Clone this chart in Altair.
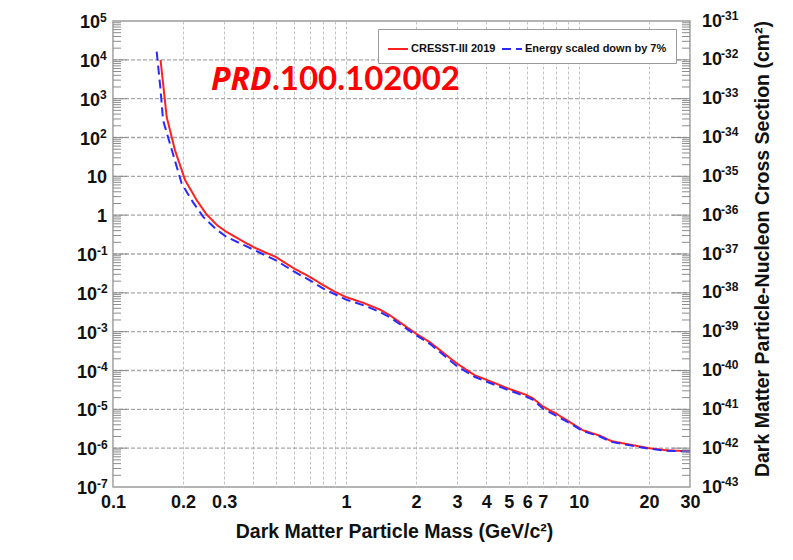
import altair as alt
import pandas as pd

# ---------------- data ----------------
series_names = ["CRESST-III 2019", "Energy scaled down by 7%"]

red_mass = [0.160, 0.170, 0.1845, 0.204, 0.229, 0.252, 0.280, 0.307, 0.35, 0.40, 0.45,
            0.50, 0.60, 0.70, 0.80, 0.90, 1.00, 1.19, 1.40, 1.55, 2.00, 2.29, 3.00,
            3.58, 4.00, 5.00, 5.90, 6.37, 7.00, 8.00, 9.15, 10.4, 12.3, 13.8, 16.6,
            20.0, 23.8, 30.0]
red_xs = [1.0e4, 340, 47, 8.0, 2.4, 1.05, 0.55, 0.37, 0.236, 0.152, 0.11,
          0.084, 0.042, 0.0257, 0.0157, 0.0105, 0.0078, 0.0055, 0.0037, 0.0026, 8.9e-4, 5.4e-4, 1.5e-4,
          7.5e-5, 5.8e-5, 3.4e-5, 2.4e-5, 1.9e-5, 1.19e-5, 7.7e-6, 4.7e-6, 2.9e-6, 2.1e-6, 1.52e-6, 1.23e-6,
          1.0e-6, 8.8e-7, 8.3e-7]

blue_mass = [0.154, 0.160, 0.164, 0.179, 0.197, 0.220, 0.244, 0.275, 0.307, 0.40, 0.50,
             0.60, 0.70, 0.80, 1.00, 1.20, 1.40, 1.55, 2.00, 2.30, 3.00, 3.58, 4.00,
             5.00, 5.90, 6.37, 7.00, 9.15, 10.4, 12.3, 13.8, 16.6, 20.0, 23.8, 30.0]
blue_xs = [1.62e4, 1700, 280, 47, 6.6, 2.2, 0.9, 0.45, 0.276, 0.13, 0.069,
           0.035, 0.021, 0.0128, 0.0067, 0.0047, 0.0032, 0.0023, 8.1e-4, 4.8e-4, 1.29e-4, 6.8e-5, 5.2e-5,
           3.1e-5, 2.16e-5, 1.75e-5, 1.05e-5, 4.4e-6, 2.75e-6, 2.0e-6, 1.45e-6, 1.18e-6, 9.7e-7, 8.6e-7, 8.2e-7]

x_grid_values = [0.1, 0.2, 0.3, 0.4, 0.5, 0.6, 0.7, 0.8, 0.9,
                 1, 2, 3, 4, 5, 6, 7, 8, 9, 10, 20, 30]
x_label_texts = ["0.1", "0.2", "0.3", "1", "2", "3", "4", "5", "6", "7", "10", "20", "30"]

left_tick_exps = [5, 4, 3, 2, 1, 0, -1, -2, -3, -4, -5, -6, -7]
right_tick_exps = [-31, -32, -33, -34, -35, -36, -37, -38, -39, -40, -41, -42, -43]
pb_to_cm2_exp = -36
minor_multipliers = [2, 3, 4, 5, 6, 7, 8, 9]

x_title = "Dark Matter Particle Mass (GeV/c²)"
left_title = "Dark Matter Particle-Nucleon Cross Section (pb)"
right_title = "Dark Matter Particle-Nucleon Cross Section (cm²)"
stamp_italic = "PRD"
stamp_rest = ".100.102002"

# ---------------- tables ----------------
lines_df = pd.concat([
    pd.DataFrame({"mass": red_mass, "xs": red_xs, "series": series_names[0]}),
    pd.DataFrame({"mass": blue_mass, "xs": blue_xs, "series": series_names[1]}),
])
left_df = pd.DataFrame({"e": left_tick_exps})
right_df = pd.DataFrame({"e": right_tick_exps})
grid_df = pd.DataFrame({"ge": left_tick_exps[1:-1]})
major_df = pd.DataFrame({"v": [10.0 ** e for e in left_tick_exps[1:-1]]})
minor_df = pd.DataFrame({"v": [m * 10.0 ** e for e in left_tick_exps[1:] for m in minor_multipliers]})

W, H = 577, 466
FONT = "Liberation Sans"
INK = "#111111"
GRID = "#c2c2c2"
FRAME = "#9a9a9a"

xscale = alt.Scale(type="log", domain=[0.1, 30], nice=False)
yscale = alt.Scale(type="log", domain=[1e-7, 1e5], nice=False)

label_list = "[" + ",".join("'%s'" % t for t in x_label_texts) + "]"

leg = alt.Legend(
    title=None, orient="none", legendX=265, legendY=8, direction="horizontal",
    symbolType="stroke", symbolSize=400, symbolStrokeWidth=2,
    labelFont=FONT, labelFontSize=11, labelFontWeight="bold", labelColor=INK,
    labelOffset=2, columnPadding=2, padding=9, strokeColor=FRAME, fillColor="white",
    labelLimit=0,
)

def yenc():
    return alt.Y("v:Q", scale=yscale, axis=None)

# horizontal dashed grid at each decade
hgrid = alt.Chart(grid_df).transform_calculate(gv="pow(10, datum.ge)").mark_rule(
    color="#a8a8a8", strokeWidth=1.4, strokeDash=[4, 2]).encode(
    y=alt.Y("gv:Q", scale=yscale, axis=alt.Axis(
        values=[10.0 ** e for e in left_tick_exps], labels=False, ticks=False, tickSize=0,
        domain=False, grid=False,
        title=left_title, titleFont=FONT, titleFontSize=19.5, titleFontWeight="bold", titleColor=INK,
        titleX=-60, titleY=230, titleAngle=270, titleBaseline="alphabetic", titleAlign="center",
        titleAnchor="start",
    )),
    x=alt.value(0), x2=alt.value(W),
)

lines = alt.Chart(lines_df).mark_line(strokeWidth=2, clip=True).encode(
    x=alt.X("mass:Q", scale=xscale, axis=alt.Axis(
        values=x_grid_values, format="~g",
        labelExpr="indexof(%s, datum.label) >= 0 ? datum.label : ''" % label_list,
        grid=True, gridDash=[3, 2], gridColor=GRID, gridWidth=1,
        ticks=False, tickSize=0, domain=False,
        labelFont=FONT, labelFontSize=18, labelFontWeight="bold", labelColor=INK,
        labelPadding=20, labelBaseline="alphabetic", labelFlush=False, labelOverlap=False,
        title=x_title, titleFont=FONT, titleFontSize=19.5, titleFontWeight="bold", titleColor=INK,
        titleX=281, titleY=50, titleBaseline="alphabetic", titleAlign="center", titleAnchor="start",
    )),
    y=alt.Y("xs:Q", scale=yscale, axis=None),
    color=alt.Color("series:N", scale=alt.Scale(domain=series_names, range=["#ff2020", "#2a2aff"]), legend=leg),
    strokeDash=alt.StrokeDash("series:N", scale=alt.Scale(domain=series_names, range=[[1, 0], [9, 5]]), legend=leg),
)

tick_color = "#8c8c8c"
minor_left = alt.Chart(minor_df).mark_rule(color=tick_color, strokeWidth=1).encode(
    y=yenc(), x=alt.value(0), x2=alt.value(8))
major_left = alt.Chart(major_df).mark_rule(color=tick_color, strokeWidth=1).encode(
    y=yenc(), x=alt.value(0), x2=alt.value(14))
minor_right = alt.Chart(minor_df).mark_rule(color=tick_color, strokeWidth=1).encode(
    y=yenc(), x=alt.value(W), x2=alt.value(W - 8))
major_right = alt.Chart(major_df).mark_rule(color=tick_color, strokeWidth=1).encode(
    y=yenc(), x=alt.value(W), x2=alt.value(W - 18))

base_txt = dict(font=FONT, fontWeight="bold", color=INK)

left_base = alt.Chart(left_df).transform_filter("datum.e != 0 && datum.e != 1").transform_calculate(
    v="pow(10, datum.e)", es="toString(datum.e)")
left_pos_base = left_base.transform_filter("datum.e > 1").mark_text(
    align="right", baseline="middle", fontSize=18, dy=2, **base_txt).encode(
    y=yenc(), x=alt.value(-13), text=alt.value("10"))
left_pos_exp = left_base.transform_filter("datum.e > 1").mark_text(
    align="left", baseline="middle", fontSize=12, dy=-3.5, **base_txt).encode(
    y=yenc(), x=alt.value(-13), text="es:N")
left_neg_base = left_base.transform_filter("datum.e < 0").mark_text(
    align="right", baseline="middle", fontSize=18, dy=2, **base_txt).encode(
    y=yenc(), x=alt.value(-16), text=alt.value("10"))
left_neg_exp = left_base.transform_filter("datum.e < 0").mark_text(
    align="left", baseline="middle", fontSize=12, dy=-3.5, **base_txt).encode(
    y=yenc(), x=alt.value(-16), text="es:N")
left_plain = alt.Chart(left_df).transform_filter("datum.e == 0 || datum.e == 1").transform_calculate(
    v="pow(10, datum.e)", t="toString(pow(10, datum.e))").mark_text(
    align="right", baseline="middle", fontSize=18, dy=1.5, **base_txt).encode(
    y=yenc(), x=alt.value(-6), text="t:N")

right_base = alt.Chart(right_df).transform_calculate(
    v="pow(10, datum.e - (%d))" % pb_to_cm2_exp, es="toString(datum.e)")
right_b = right_base.mark_text(align="left", baseline="middle", fontSize=18, dy=0.5, **base_txt).encode(
    y=yenc(), x=alt.value(W + 12), text=alt.value("10"))
right_e = right_base.mark_text(align="left", baseline="middle", fontSize=12, dy=-5.5, **base_txt).encode(
    y=yenc(), x=alt.value(W + 31), text="es:N")

right_title_layer = alt.Chart(pd.DataFrame({"t": [right_title]})).mark_text(
    angle=270, align="center", baseline="alphabetic", fontSize=19.5, **base_txt).encode(
    x=alt.value(656), y=alt.value(228), text="t:N")

stamp1 = alt.Chart(pd.DataFrame({"t": [stamp_italic]})).mark_text(
    align="left", baseline="alphabetic", font="Open Sans", fontSize=32, fontWeight="bold",
    fontStyle="italic", color="#ff0000").encode(x=alt.value(98), y=alt.value(69), text="t:N")
stamp2 = alt.Chart(pd.DataFrame({"t": [stamp_rest]})).mark_text(
    align="left", baseline="alphabetic", font="Lato", fontSize=33, fontWeight="bold",
    color="#ff0000").encode(x=alt.value(159), y=alt.value(69), text="t:N")

chart = alt.layer(
    hgrid, lines, minor_left, major_left, minor_right, major_right,
    left_pos_base, left_pos_exp, left_neg_base, left_neg_exp, left_plain,
    right_b, right_e, right_title_layer, stamp1, stamp2,
).properties(
    width=W, height=H,
    autosize=alt.AutoSizeParams(type="none"),
    padding={"left": 113, "top": 21, "right": 103, "bottom": 73},
    background="white",
).configure_view(stroke=FRAME, strokeWidth=1.5)

chart.save("out.html", embed_options={"renderer": "svg", "actions": False})
